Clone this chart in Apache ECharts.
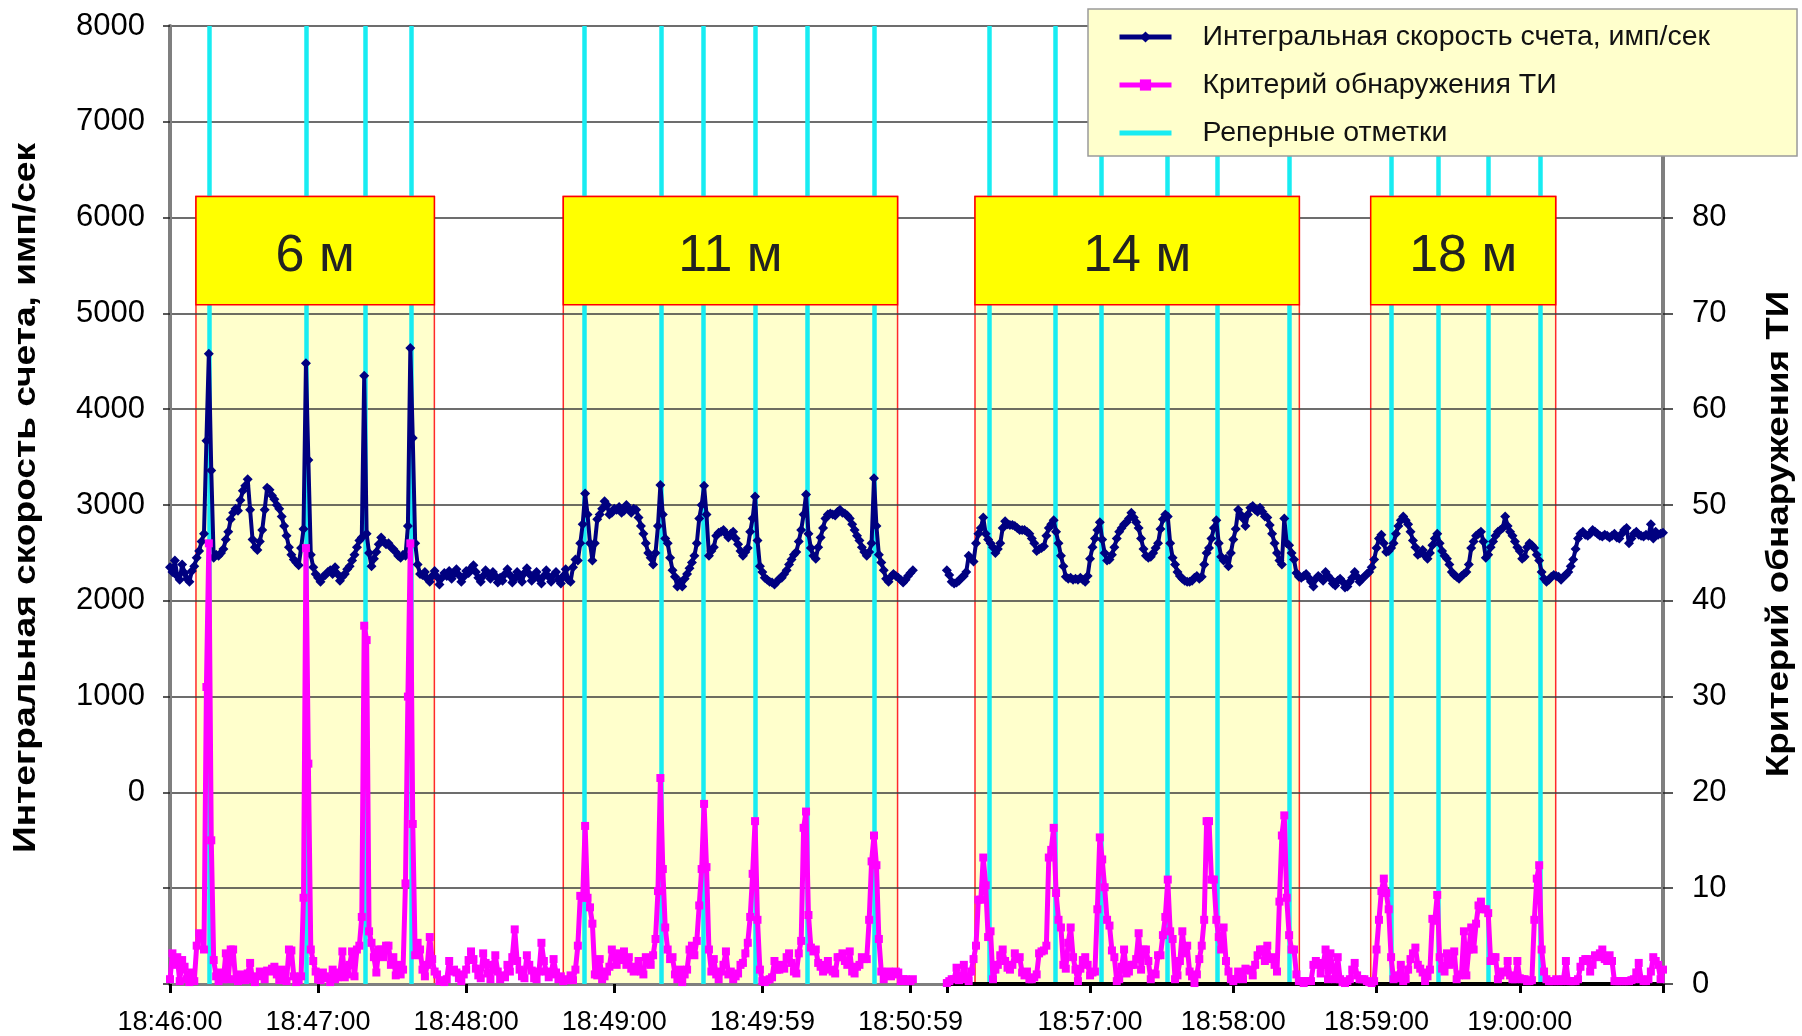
<!DOCTYPE html>
<html><head><meta charset="utf-8">
<script src="https://cdn.jsdelivr.net/npm/echarts@6/dist/echarts.min.js"></script>
<style>html,body{margin:0;padding:0;background:#fff}#chart{width:1802px;height:1036px}</style>
</head><body><div id="chart"></div>
<script>
// ---------- DATA ----------
// sample index of first point in each recorded segment (1 sample per second)
const leftStart = 0;
const rightStart = 320;

// Integral count rate, imp/s  (left axis)
const countRateLeft = [
2350,2300,2420,2260,2220,2380,2290,2230,2200,2310,
2360,2450,2520,2620,2700,3670,4580,3360,2450,2480,
2470,2500,2540,2640,2720,2850,2920,2960,2940,3050,
3150,3200,3270,2950,2640,2560,2530,2620,2740,2950,
3180,3160,3100,3060,3000,2960,2880,2780,2680,2560,
2480,2430,2400,2370,2550,2750,4480,3470,2480,2350,
2280,2240,2200,2250,2270,2300,2320,2280,2350,2280,
2210,2250,2280,2330,2360,2420,2480,2560,2630,2660,
4350,2700,2500,2360,2440,2510,2590,2660,2620,2590,
2600,2560,2540,2510,2470,2450,2480,2470,2780,4640,
3700,2600,2380,2280,2270,2300,2230,2200,2260,2310,
2250,2170,2240,2290,2260,2310,2230,2280,2330,2270,
2200,2250,2310,2290,2340,2370,2300,2240,2200,2260,
2320,2280,2230,2300,2260,2190,2240,2210,2280,2330,
2270,2190,2230,2300,2250,2200,2290,2340,2280,2210,
2260,2300,2230,2180,2260,2320,2250,2200,2270,2300,
2220,2180,2260,2330,2220,2200,2350,2430,2420,2600,
2800,3120,2900,2600,2420,2600,2850,2900,2960,3040,
3000,2900,2920,2960,2950,2980,2920,2940,3000,2960,
2920,2960,2950,2870,2780,2700,2600,2500,2450,2380,
2500,2780,3210,2900,2650,2600,2450,2320,2250,2150,
2200,2150,2230,2280,2340,2400,2470,2600,2860,3000,
3200,2900,2470,2520,2560,2680,2710,2720,2740,2700,
2660,2700,2720,2650,2590,2520,2470,2510,2550,2720,
2860,3090,2630,2360,2300,2240,2220,2200,2190,2170,
2200,2230,2240,2280,2320,2380,2430,2480,2510,2620,
2740,2900,3110,2700,2550,2470,2440,2560,2660,2760,
2860,2900,2910,2900,2890,2930,2950,2920,2910,2890,
2860,2800,2740,2680,2630,2560,2510,2470,2510,2600,
3280,2780,2480,2400,2320,2230,2200,2250,2280,2260,
2240,2220,2190,2220,2260,2290,2320
];
const countRateRight = [
2320,2270,2200,2180,2190,2210,2240,2260,2300,2470,
2440,2410,2600,2700,2760,2870,2700,2640,2600,2560,
2500,2540,2600,2760,2830,2800,2790,2790,2780,2760,
2740,2740,2740,2720,2700,2650,2600,2520,2540,2550,
2570,2680,2760,2800,2840,2720,2600,2470,2360,2250,
2230,2240,2220,2230,2220,2240,2220,2200,2260,2440,
2560,2650,2740,2820,2640,2500,2420,2430,2480,2560,
2650,2720,2760,2800,2820,2860,2920,2870,2820,2760,
2650,2540,2470,2450,2460,2500,2550,2600,2750,2850,
2900,2880,2600,2450,2380,2300,2260,2230,2210,2200,
2200,2210,2240,2260,2230,2250,2380,2500,2550,2650,
2760,2840,2600,2460,2420,2440,2360,2500,2640,2750,
2950,2900,2860,2780,2900,2970,2990,2950,2930,2970,
2930,2880,2870,2790,2700,2600,2500,2420,2380,2860,
2600,2580,2500,2430,2290,2250,2240,2260,2280,2240,
2200,2150,2230,2260,2240,2210,2300,2260,2230,2180,
2160,2210,2230,2200,2140,2150,2200,2240,2300,2250,
2200,2230,2250,2280,2300,2350,2430,2550,2650,2690,
2600,2510,2520,2550,2600,2700,2780,2840,2880,2840,
2800,2720,2630,2560,2480,2500,2530,2470,2440,2500,
2580,2650,2700,2600,2520,2470,2440,2380,2300,2270,
2250,2230,2260,2280,2300,2380,2550,2620,2680,2700,
2720,2620,2450,2480,2560,2620,2680,2720,2740,2760,
2880,2780,2720,2680,2620,2560,2520,2440,2460,2560,
2600,2580,2550,2480,2420,2300,2230,2200,2220,2250,
2270,2260,2250,2220,2250,2270,2300,2360,2430,2540,
2650,2700,2720,2690,2680,2700,2740,2720,2700,2680,
2670,2690,2680,2660,2680,2700,2660,2650,2700,2740,
2760,2600,2650,2700,2720,2690,2680,2670,2690,2680,
2800,2650,2720,2690,2700,2710
];

// Detection criterion (right axis)
const criterionLeft = [
0.5,3.2,2.0,2.8,0.3,2.5,1.8,0.5,0.2,1.2,
0.3,4.0,5.3,5.0,3.6,31,46,15,2.5,0.8,
0.3,1.2,0.5,3.2,0.5,3.6,3.6,0.5,0.3,1.0,
0.6,0.4,1.1,2.2,0.5,0.2,0.8,1.3,1.0,0.5,
1.4,1.3,1.6,1.8,1.0,0.4,1.5,0.6,0.3,3.6,
3.5,0.8,0.2,0.4,0.8,9.0,45.5,23,3.6,2.4,
1.3,0.5,0.4,1.2,0.8,0.6,0.2,1.5,0.5,0.7,
1.2,3.4,0.7,1.0,2.0,3.4,0.8,3.6,4.0,7.0,
37.4,35.9,5.5,4.3,2.8,1.2,3.6,3.6,2.8,4.0,
4.0,2.0,2.8,0.9,2.0,1.0,1.5,10.5,30,46,
16.7,3.0,4.3,3.6,1.5,0.8,2.0,4.9,2.6,1.3,
1.0,0.3,0.4,0.2,0.5,2.4,1.3,1.5,1.2,0.6,
0.3,1.0,1.5,2.5,3.4,2.6,1.6,0.9,0.6,3.2,
2.2,1.1,0.5,2.0,3.0,1.3,0.5,0.9,0.7,2.0,
1.3,2.8,5.7,2.4,1.5,0.8,0.6,3.0,2.0,1.4,
0.6,0.5,1.3,4.3,2.4,1.3,0.7,1.0,2.6,1.2,
0.5,0.8,0.3,0.5,0.4,0.9,0.4,1.5,4.0,9.2,
9.0,16.5,9.0,8.0,6.3,1.0,0.9,2.6,0.5,0.8,
1.3,1.8,3.6,2.8,2.0,3.2,2.5,3.4,2.0,2.8,
1.6,1.3,1.8,2.4,1.3,1.0,2.8,2.2,2.0,3.0,
4.7,9.7,21.5,12,5.9,3.6,2.6,2.8,1.0,0.5,
1.5,0.2,1.0,1.5,3.6,4.0,3.0,4.5,8.2,12,
18.8,12.2,3.6,1.3,2.6,1.0,0.5,1.3,2.0,3.4,
1.0,1.3,0.5,0.8,1.1,2.0,2.2,3.2,4.3,7.0,
11.5,17.0,6.7,1.5,0.3,0.2,0.4,0.5,0.7,2.4,
1.5,1.5,2.0,1.6,2.8,3.2,2.2,1.3,1.1,3.2,
4.5,16.3,18.0,7.2,3.8,3.4,3.6,2.2,1.8,1.3,
2.0,2.4,1.5,1.3,1.1,2.8,2.8,3.2,2.4,2.0,
3.4,1.3,1.1,1.8,2.0,2.8,2.6,2.6,6.7,12.8,
15.5,12.4,4.7,1.3,0.5,1.0,1.3,0.8,1.0,1.3,
1.2,0.3,0.5,0.5,0.3,0.3,0.5
];
const criterionRight = [
0.1,0.3,0.5,0.5,1.7,0.4,0.5,2.0,0.6,0.3,
1.3,2.6,4.0,8.8,8.8,13.2,10.3,4.9,5.5,0.5,
1.5,2.0,3.0,3.6,2.4,1.7,1.5,2.0,3.2,2.6,
2.8,1.2,0.9,1.3,0.5,0.5,0.7,1.0,3.2,3.4,
3.5,4.0,13.2,14.0,16.3,9.5,6.7,5.9,2.0,1.6,
4.3,5.9,2.8,1.5,0.3,1.6,2.5,2.8,2.0,0.9,
1.2,1.3,7.8,15.3,13.0,10.1,6.7,6.1,3.5,2.8,
0.3,0.5,1.8,3.6,1.1,1.3,2.0,2.0,2.6,5.3,
1.5,3.6,3.6,2.4,0.5,1.1,1.0,3.0,3.0,5.1,
7.0,10.9,5.5,4.7,0.5,0.9,2.4,5.5,3.2,4.0,
1.3,0.8,0.1,1.0,2.6,4.0,6.7,17.0,17.0,10.9,
10.9,6.7,4.9,3.6,5.9,2.4,1.3,0.5,0.3,0.5,
1.3,1.2,0.5,1.6,1.5,1.4,0.9,2.0,3.0,3.6,
3.6,2.4,4.0,2.6,2.8,2.0,1.3,8.6,15.5,17.6,
9.0,5.1,3.6,3.6,1.0,0.3,0.3,0.1,0.3,0.3,
0.3,2.0,2.4,2.2,1.1,2.0,3.6,0.5,3.2,1.5,
0.5,2.8,0.5,0.2,0.1,0.3,0.5,1.5,2.2,0.9,
0.5,0.5,0.5,0.3,0.2,0.1,0.3,3.6,6.7,9.7,
11.0,9.5,7.8,2.8,0.5,0.6,0.9,2.0,0.3,0.5,
1.5,2.6,3.2,3.8,2.0,1.6,1.2,0.3,0.8,1.5,
6.8,6.6,9.3,2.8,1.6,1.3,3.2,2.0,2.4,3.4,
0.5,0.9,1.0,5.5,0.9,3.6,5.9,3.6,6.3,8.2,
8.6,7.8,7.8,7.4,2.4,2.8,2.8,0.5,0.9,1.3,
1.2,2.4,0.9,0.5,0.5,2.4,0.6,0.5,0.5,0.3,
0.3,0.4,6.7,11.0,12.4,3.6,1.3,0.5,0.3,0.3,
0.3,0.5,0.3,0.3,0.5,2.4,0.3,0.3,0.3,0.3,
0.5,1.8,2.4,2.6,2.6,1.3,2.0,3.0,2.8,3.2,
3.6,2.6,2.4,3.0,2.4,0.3,0.3,0.3,0.3,0.3,
0.3,0.3,0.4,0.5,1.2,2.2,0.5,0.3,0.3,0.5,
1.3,2.8,2.4,2.0,0.5,1.5
];

// x-axis ticks (sample index) and their labels
const tickPositions = [0, 61, 122, 183, 244, 305, 320, 379, 438, 497, 556, 615];
const tickLabels = ['18:46:00','18:47:00','18:48:00','18:49:00','18:49:59','18:50:59','','18:57:00','18:58:00','18:59:00','19:00:00',''];

// reference marks (sample index)
const refMarks = [16, 56, 80.3, 99.3, 170.8, 202.4, 219.7, 241, 262.4, 290.1, 337.5, 364.5, 383.5, 410.9, 431.2, 461, 503, 522.4, 543, 564.3];

// distance zones
const zoneNames = ['6 м', '11 м', '14 м', '18 м'];
const zoneFrom = [10.7, 162, 331.6, 494.6];
const zoneTo = [108.9, 299.7, 465.2, 570.8];

const seriesNames = ['Интегральная скорость счета, имп/сек', 'Критерий обнаружения ТИ', 'Реперные отметки'];
const axisNames = ['Интегральная скорость счета, имп/сек', 'Критерий обнаружения ТИ'];

// ---------- CHART ----------
const FONT = "'Liberation Sans', Arial, Helvetica, sans-serif";
const CYAN = '#18ECF2';
const BOX_TOP = 6220, BOX_BOTTOM = 5090;

function toPairs(left, right) {
  const out = left.map((v, i) => [leftStart + i, v]);
  out.push([leftStart + left.length + 1, null]);
  right.forEach((v, i) => out.push([rightStart + i, v]));
  return out;
}

const chart = echarts.init(document.getElementById('chart'), null, {renderer: 'canvas'});
chart.setOption({
  animation: false,
  backgroundColor: '#ffffff',
  textStyle: {fontFamily: FONT},
  grid: {left: 170, right: 139, top: 26, bottom: 51, containLabel: false},
  graphic: [
    {
      type: 'text', x: 26, y: 498, rotation: Math.PI / 2, scaleX: 1.16, z: 10,
      style: {text: axisNames[0], font: 'bold 32px ' + FONT, fill: '#000', textAlign: 'center', textVerticalAlign: 'middle'}
    },
    {
      type: 'text', x: 1779, y: 534, rotation: Math.PI / 2, scaleX: 1.15, z: 10,
      style: {text: axisNames[1], font: 'bold 32px ' + FONT, fill: '#000', textAlign: 'center', textVerticalAlign: 'middle'}
    }
  ],
  legend: {
    data: seriesNames.map((n, i) => i === 2 ? {name: n, itemStyle: {color: 'rgba(0,0,0,0)', borderWidth: 0}} : {name: n}),
    orient: 'vertical',
    left: 1088, top: 9,
    z: 10,
    backgroundColor: '#FFFFCC',
    borderColor: '#9a9a9a', borderWidth: 1.5,
    padding: [13, 87, 8, 29],
    itemWidth: 52, itemHeight: 14, itemGap: 18,
    lineStyle: {width: 5},
    textStyle: {fontSize: 28.5, lineHeight: 30, color: '#111', fontFamily: FONT, padding: [0, 0, 0, 26]},
    selectedMode: false
  },
  xAxis: {
    type: 'value', min: 0, max: 615, position: 'bottom',
    axisLine: {show: true, onZero: false, lineStyle: {color: '#7f7f7f', width: 3}},
    axisTick: {show: true, customValues: tickPositions, length: 9, lineStyle: {color: '#000', width: 3}},
    axisLabel: {
      customValues: tickPositions.filter((p, i) => tickLabels[i] !== ''),
      formatter: v => tickLabels[tickPositions.indexOf(v)] || '',
      fontSize: 27, color: '#000', margin: 25, fontFamily: FONT
    },
    splitLine: {show: false}
  },
  yAxis: [
    {
      type: 'value', min: -2000, max: 8000, interval: 1000, position: 'left',
      axisLine: {show: true, lineStyle: {color: '#7f7f7f', width: 4}},
      axisTick: {show: true, length: 7, lineStyle: {color: '#222', width: 1.5}},
      axisLabel: {formatter: v => (v < 0 ? '' : String(v)), fontSize: 31, color: '#000', margin: 25, fontFamily: FONT},
      splitLine: {show: true, lineStyle: {color: '#3c3c3c', width: 1.5}}
    },
    {
      type: 'value', min: 0, max: 100, interval: 10, position: 'right',
      axisLine: {show: true, lineStyle: {color: '#7f7f7f', width: 4}},
      axisTick: {show: true, length: 10, lineStyle: {color: '#222', width: 1.5}},
      axisLabel: {fontSize: 31, color: '#000', margin: 29, fontFamily: FONT},
      splitLine: {show: false}
    }
  ],
  series: [
    {
      name: seriesNames[0], type: 'line', yAxisIndex: 0, z: 3,
      data: toPairs(countRateLeft, countRateRight),
      symbol: 'diamond', symbolSize: 10, connectNulls: false,
      lineStyle: {color: '#000080', width: 4}, itemStyle: {color: '#000080'},
      emphasis: {disabled: true}
    },
    {
      name: seriesNames[1], type: 'line', yAxisIndex: 1, z: 4,
      data: toPairs(criterionLeft, criterionRight),
      symbol: 'rect', symbolSize: 8, connectNulls: false,
      lineStyle: {color: '#FF00FF', width: 5}, itemStyle: {color: '#FF00FF'},
      emphasis: {disabled: true}
    },
    {
      name: seriesNames[2], type: 'line', yAxisIndex: 0, data: [],
      symbol: 'none', lineStyle: {color: CYAN, width: 5}, itemStyle: {color: CYAN},
      markLine: {
        silent: true, z: 2, symbol: ['none', 'none'], animation: false,
        label: {show: false},
        lineStyle: {color: CYAN, width: 4.5, type: 'solid'},
        emphasis: {disabled: true},
        data: refMarks.map(x => ({xAxis: x}))
      }
    },
    {
      name: 'zones', type: 'line', yAxisIndex: 0, data: [],
      markArea: {
        silent: true, z: -1, animation: false,
        itemStyle: {color: '#FFFFCC', borderColor: '#FF2A2A', borderWidth: 1.5},
        label: {show: false},
        data: zoneNames.map((n, i) => [{coord: [zoneFrom[i], -2000]}, {coord: [zoneTo[i], BOX_TOP]}])
      },
      markLine: {
        silent: true, z: 2, symbol: ['none', 'none'], animation: false,
        label: {show: false},
        lineStyle: {color: '#000', width: 4, type: 'solid'},
        data: [[{coord: [rightStart, -2000]}, {coord: [615, -2000]}]]
      }
    },
    {
      name: 'zoneLabels', type: 'line', yAxisIndex: 0, data: [],
      markArea: {
        silent: true, z: 6, animation: false,
        itemStyle: {color: '#FFFF00', borderColor: '#FF0000', borderWidth: 1.5},
        label: {show: true, position: 'inside', fontSize: 52, color: '#222', fontFamily: FONT, offset: [0, 6]},
        emphasis: {disabled: true},
        data: zoneNames.map((n, i) => [{name: n, coord: [zoneFrom[i], BOX_TOP]}, {coord: [zoneTo[i], BOX_BOTTOM]}])
      }
    }
  ]
});
</script>
</body></html>
